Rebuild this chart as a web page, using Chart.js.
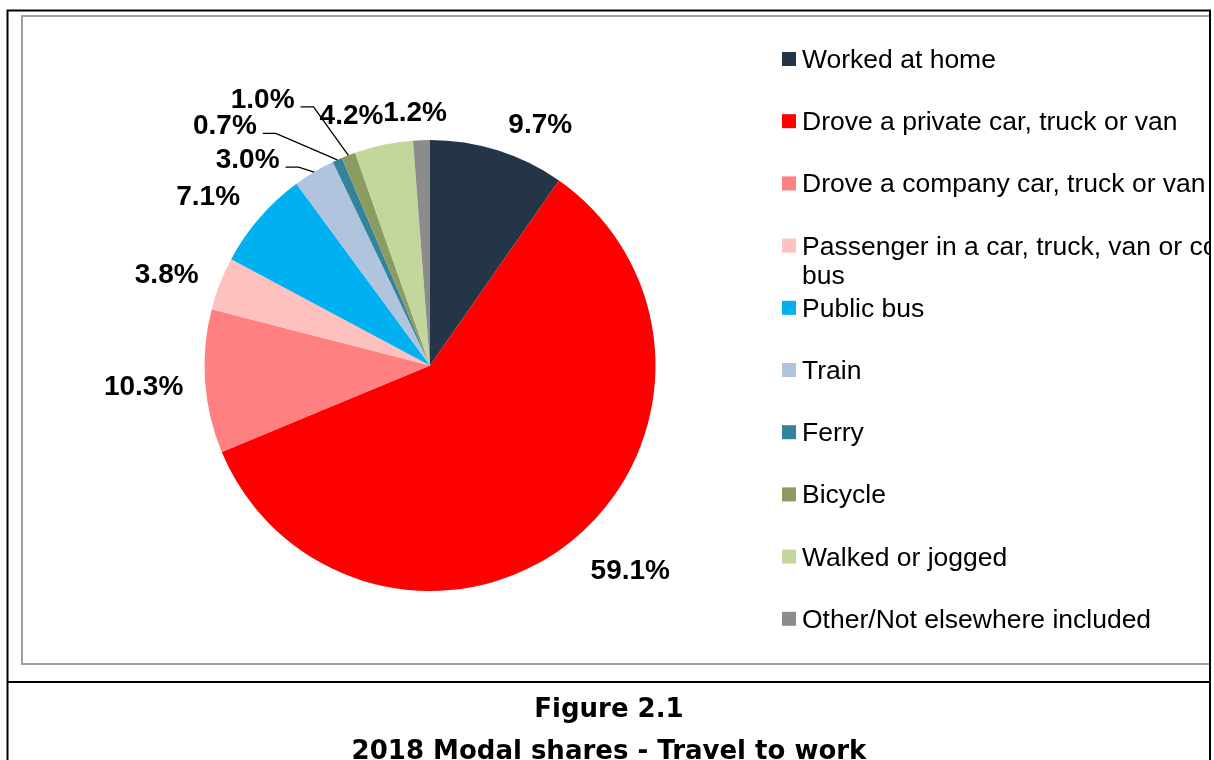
<!DOCTYPE html>
<html>
<head>
<meta charset="utf-8">
<title>2018 Modal shares - Travel to work</title>
<script src="https://cdn.jsdelivr.net/npm/chart.js@4.4.1/dist/chart.umd.min.js"></script>
<style>
  html, body { margin: 0; padding: 0; background: #ffffff; }
  #wrap { position: relative; width: 1214px; height: 760px; }
</style>
</head>
<body>
<div id="wrap"><canvas id="modalChart"></canvas></div>
<script>
// ---- data ----
const modes = [
  'Worked at home',
  'Drove a private car, truck or van',
  'Drove a company car, truck or van',
  'Passenger in a car, truck, van or company bus',
  'Public bus',
  'Train',
  'Ferry',
  'Bicycle',
  'Walked or jogged',
  'Other/Not elsewhere included'
];
const shares = [9.7, 59.1, 10.3, 3.8, 7.1, 3.0, 0.7, 1.0, 4.2, 1.2];
const sliceColors = [
  '#253548', '#ff0000', '#ff8080', '#ffc0c0', '#00b0f0',
  '#b0c4de', '#31849b', '#8c9b5f', '#c3d69b', '#8c8c8c'
];
const figureNumber = 'Figure 2.1';
const figureTitle = '2018 Modal shares - Travel to work';

// ---- value label placement (relative to each slice's middle angle) ----
const labelTurn  = [7.0, -5.7, 0.2, -2.0, -3.4, -10.4, -16.1, -10.8, -5.5, -1.2]; // degrees
const labelReach = [41, 60, 61.5, 53.5, 54.2, 50.6, 91.1, 90.2, 37.5, 29.5];      // px beyond rim
const labelLeader = [false, false, false, false, false, true, true, true, false, false];

const LABEL_FONT = 'bold 28px "Liberation Sans", Arial, sans-serif';
const LEGEND_FONT = '26.5px "Liberation Sans", Arial, sans-serif';
const TITLE_FONT = 'bold 26px "DejaVu Sans", Verdana, sans-serif';
const FRAME_RIGHT = 1210;

// frames: grey plot frame behind, black figure frame on top
const framePlugin = {
  id: 'frames',
  beforeDraw(chart) {
    const ctx = chart.ctx;
    ctx.save();
    ctx.fillStyle = '#ffffff';
    ctx.fillRect(0, 0, chart.width, chart.height);
    ctx.beginPath();
    ctx.rect(0, 0, FRAME_RIGHT - 1, chart.height);
    ctx.clip();
    ctx.strokeStyle = '#a0a0a0';
    ctx.lineWidth = 2;
    ctx.strokeRect(22, 16, 1240, 648);
    ctx.restore();
  },
  afterDraw(chart) {
    const ctx = chart.ctx;
    ctx.save();
    ctx.strokeStyle = '#000000';
    ctx.lineWidth = 2;
    ctx.beginPath();
    ctx.moveTo(7.5, 762);
    ctx.lineTo(7.5, 10.5);
    ctx.lineTo(FRAME_RIGHT, 10.5);
    ctx.lineTo(FRAME_RIGHT, 762);
    ctx.moveTo(7.5, 682);
    ctx.lineTo(FRAME_RIGHT, 682);
    ctx.stroke();

    ctx.fillStyle = '#000000';
    ctx.font = TITLE_FONT;
    ctx.textAlign = 'center';
    ctx.textBaseline = 'alphabetic';
    ctx.fillText(figureNumber, 609, 717);
    ctx.fillText(figureTitle, 609, 759);
    ctx.restore();
  }
};

// percentage labels with leader lines for the thin slices
const valueLabelPlugin = {
  id: 'valueLabels',
  afterDatasetsDraw(chart) {
    const ctx = chart.ctx;
    const meta = chart.getDatasetMeta(0);
    ctx.save();
    ctx.font = LABEL_FONT;
    ctx.fillStyle = '#000000';
    ctx.strokeStyle = '#000000';
    ctx.lineWidth = 1.3;
    ctx.textAlign = 'center';
    ctx.textBaseline = 'alphabetic';
    meta.data.forEach((arc, i) => {
      const p = arc.getProps(['x', 'y', 'startAngle', 'endAngle', 'outerRadius'], true);
      const mid = (p.startAngle + p.endAngle) / 2;
      const a = mid + labelTurn[i] * Math.PI / 180;
      const d = p.outerRadius + labelReach[i];
      const cx = p.x + Math.cos(a) * d;
      const cy = p.y + Math.sin(a) * d;
      const text = chart.data.datasets[0].data[i].toFixed(1) + '%';
      const base = cy + 10;
      ctx.fillText(text, cx, base);
      if (labelLeader[i]) {
        const w = ctx.measureText(text).width;
        const x0 = cx + w / 2 + 6;
        const x1 = x0 + 13;
        const ly = base - 1;
        const px = p.x + Math.cos(mid) * p.outerRadius;
        const py = p.y + Math.sin(mid) * p.outerRadius;
        ctx.beginPath();
        ctx.moveTo(x0, ly);
        ctx.lineTo(x1, ly);
        ctx.lineTo(px, py);
        ctx.stroke();
      }
    });
    ctx.restore();
  }
};

// legend column on the right, clipped by the figure frame
const legendPlugin = {
  id: 'sideLegend',
  afterDatasetsDraw(chart) {
    const ctx = chart.ctx;
    const labels = chart.data.labels;
    const colors = chart.data.datasets[0].backgroundColor;
    const left = 782, top = 59, step = 62.2, box = 14, gap = 6, wrapWidth = 510, lineH = 29.5;
    ctx.save();
    ctx.beginPath();
    ctx.rect(0, 0, FRAME_RIGHT - 1, chart.height);
    ctx.clip();
    ctx.font = LEGEND_FONT;
    ctx.textAlign = 'left';
    ctx.textBaseline = 'alphabetic';
    labels.forEach((label, i) => {
      const cy = top + i * step;
      ctx.fillStyle = colors[i];
      ctx.fillRect(left, cy - box / 2, box, box);
      // word wrap
      const words = label.split(' ');
      const lines = [];
      let line = '';
      words.forEach(w => {
        const test = line ? line + ' ' + w : w;
        if (line && ctx.measureText(test).width > wrapWidth) {
          lines.push(line);
          line = w;
        } else {
          line = test;
        }
      });
      lines.push(line);
      ctx.fillStyle = '#000000';
      lines.forEach((ln, k) => ctx.fillText(ln, left + box + gap, cy + 9 + k * lineH));
    });
    ctx.restore();
  }
};

new Chart(document.getElementById('modalChart'), {
  type: 'pie',
  data: {
    labels: modes,
    datasets: [{
      data: shares,
      backgroundColor: sliceColors,
      borderWidth: 0
    }]
  },
  options: {
    responsive: true,
    maintainAspectRatio: false,
    animation: false,
    events: [],
    layout: { padding: { left: 204.5, top: 140, right: 558.5, bottom: 169 } },
    plugins: {
      legend: { display: false },
      tooltip: { enabled: false },
      title: { display: false }
    }
  },
  plugins: [framePlugin, valueLabelPlugin, legendPlugin]
});
</script>
</body>
</html>
